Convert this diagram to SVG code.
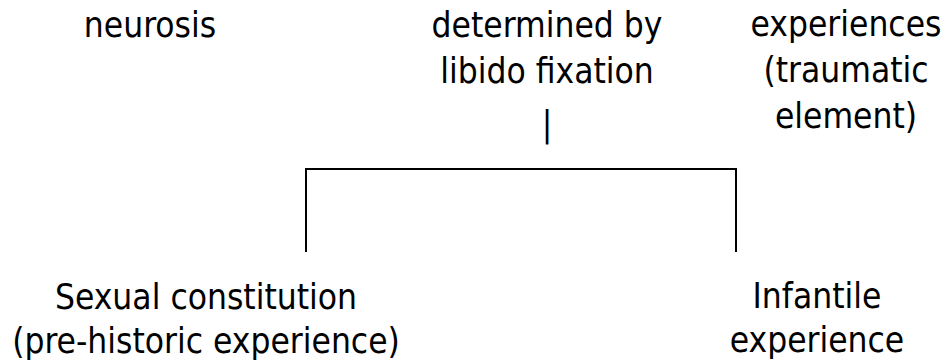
<svg xmlns="http://www.w3.org/2000/svg" width="943" height="362" viewBox="0 0 943 362">
  <style>
    .t { font-family: "DejaVu Sans Condensed", "DejaVu Sans", sans-serif; font-stretch: condensed; font-size: 35px; fill: #000; text-anchor: middle; }
    .c { fill: none; stroke: #000; stroke-width: 2; }
  </style>
  <rect width="943" height="362" fill="#fff"/>
  <g id="neurosis">
    <text class="t" x="150" y="37">neurosis</text>
  </g>
  <g id="determined">
    <text class="t" x="547" y="37">determined by</text>
    <text class="t" x="547" y="83">libido fixation</text>
    <text class="t" x="547" y="136">|</text>
  </g>
  <g id="experiences">
    <text class="t" x="846" y="36">experiences</text>
    <text class="t" x="846" y="82">(traumatic</text>
    <text class="t" x="846" y="128">element)</text>
  </g>
  <g id="connectors">
    <path class="c" d="M306,252 V169 H736 V252"/>
  </g>
  <g id="sexual">
    <text class="t" x="206" y="309">Sexual constitution</text>
    <text class="t" x="206" y="353">(pre-historic experience)</text>
  </g>
  <g id="infantile">
    <text class="t" x="817" y="308">Infantile</text>
    <text class="t" x="817" y="352">experience</text>
  </g>
</svg>
